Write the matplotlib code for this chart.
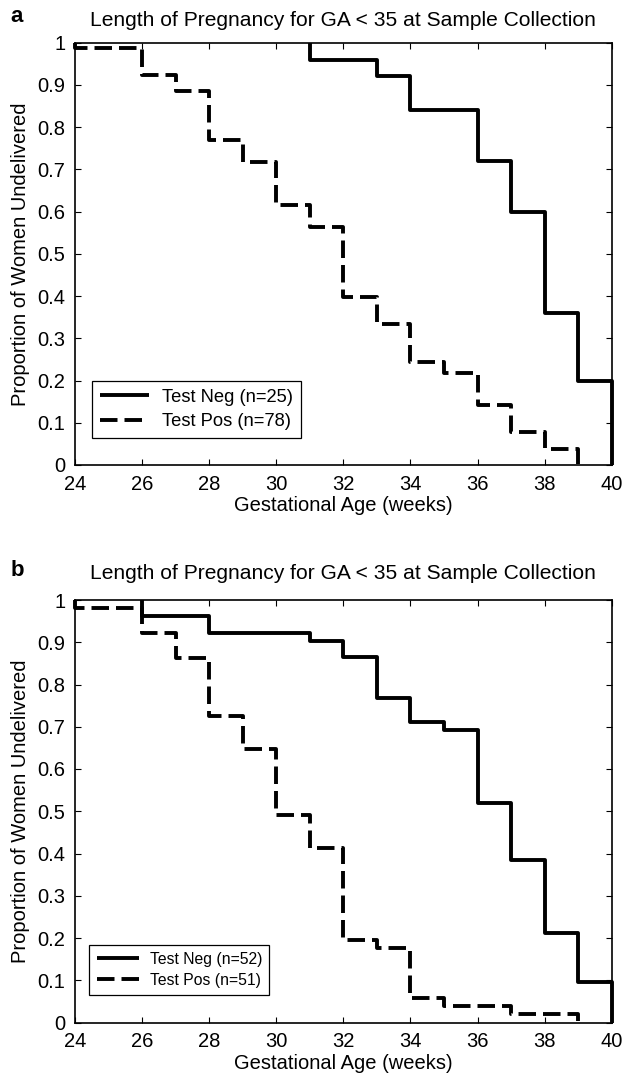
import numpy as np
import matplotlib
matplotlib.use("Agg")
import matplotlib.pyplot as plt
from matplotlib.ticker import FuncFormatter

plt.rcParams['font.family'] = ['Liberation Sans', 'DejaVu Sans']

title = "Length of Pregnancy for GA < 35 at Sample Collection"
xlabel = "Gestational Age (weeks)"
ylabel = "Proportion of Women Undelivered"

# panel a: weeks where a step happens, and proportion left after it
neg_a_weeks = [31, 33, 34, 36, 37, 38, 39, 40]
neg_a_surv = [0.96, 0.92, 0.84, 0.72, 0.60, 0.36, 0.20, 0.0]
pos_a_weeks = [24, 26, 27, 28, 29, 30, 31, 32, 33, 34, 35, 36, 37, 38, 39]
pos_a_surv = [0.987, 0.923, 0.885, 0.769, 0.718, 0.615, 0.564, 0.397,
              0.333, 0.244, 0.218, 0.141, 0.077, 0.038, 0.0]

# panel b
neg_b_weeks = [26, 28, 31, 32, 33, 34, 35, 36, 37, 38, 39, 40]
neg_b_surv = [0.962, 0.923, 0.904, 0.865, 0.769, 0.712, 0.692, 0.519,
              0.385, 0.212, 0.096, 0.0]
pos_b_weeks = [24, 26, 27, 28, 29, 30, 31, 32, 33, 34, 35, 37, 39]
pos_b_surv = [0.980, 0.922, 0.863, 0.725, 0.647, 0.490, 0.412, 0.196,
              0.176, 0.059, 0.039, 0.020, 0.0]

labels_a = ["Test Neg (n=25)", "Test Pos (n=78)"]
labels_b = ["Test Neg (n=52)", "Test Pos (n=51)"]

dash = (0, (4.5, 1.8))


def km_step(ax, weeks, surv, ls, label):
    # curve starts at 1.0 and drops at first event
    xs = np.r_[weeks[0], weeks]
    ys = np.r_[1.0, surv]
    ax.step(xs, ys, where="post", color="black", lw=2.8, ls=ls,
            label=label, clip_on=False, solid_capstyle="butt")


def style_axes(ax, legend_fs, legend_anchor):
    ax.set_xlim(24, 40)
    ax.set_ylim(0, 1)
    ax.set_xticks(np.arange(24, 41, 2))
    ax.set_yticks(np.arange(0, 1.01, 0.1))
    ax.yaxis.set_major_formatter(FuncFormatter(lambda v, p: "%g" % round(v, 1)))
    ax.tick_params(direction="in", length=4, width=0.8, labelsize=14.5,
                   top=True, right=True, pad=7)
    for s in ax.spines.values():
        s.set_linewidth(1.2)
    ax.set_xlabel(xlabel, fontsize=14.5, labelpad=2)
    ax.set_ylabel(ylabel, fontsize=14.5, labelpad=5)
    leg = ax.legend(loc="lower left", bbox_to_anchor=legend_anchor,
                    borderaxespad=0, fontsize=legend_fs, handlelength=2.7,
                    handletextpad=0.7, borderpad=0.45, labelspacing=0.4,
                    fancybox=False, framealpha=1)
    leg.get_frame().set_edgecolor("black")
    leg.get_frame().set_linewidth(0.9)


fig = plt.figure(figsize=(6.27, 10.81), dpi=100)
ax_a = fig.add_axes([75 / 627, 1 - 465 / 1081, 536.7 / 627, 422.3 / 1081])
ax_b = fig.add_axes([75 / 627, 1 - 1022.5 / 1081, 536.7 / 627, 422.5 / 1081])

km_step(ax_a, neg_a_weeks, neg_a_surv, "-", labels_a[0])
km_step(ax_a, pos_a_weeks, pos_a_surv, dash, labels_a[1])
style_axes(ax_a, 13.2, (0.031, 0.063))
ax_a.set_title(title, fontsize=15.1, pad=12)

km_step(ax_b, neg_b_weeks, neg_b_surv, "-", labels_b[0])
km_step(ax_b, pos_b_weeks, pos_b_surv, dash, labels_b[1])
style_axes(ax_b, 11.3, (0.027, 0.065))
ax_b.set_title(title, fontsize=15.1, pad=15)

fig.text(17 / 627, 1 - 17 / 1081, "a", fontsize=16, fontweight="bold",
         ha="center", va="center")
fig.text(17 / 627, 1 - 570 / 1081, "b", fontsize=16, fontweight="bold",
         ha="center", va="center")

fig.savefig("out.png", dpi=100)
